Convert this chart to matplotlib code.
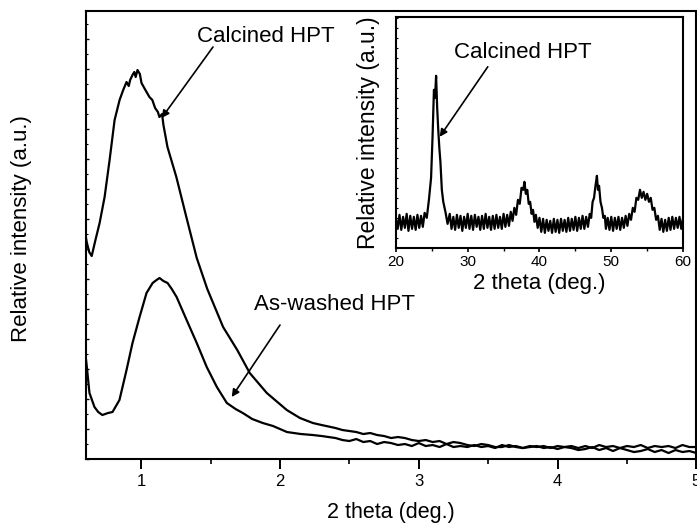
import matplotlib
matplotlib.use("Agg")
import matplotlib.pyplot as plt
from matplotlib.ticker import MultipleLocator, NullFormatter

plt.rcParams["font.family"] = ["Liberation Sans", "DejaVu Sans"]

# --- main pattern: low-angle region (2 theta 0.6-5 deg), intensity in a.u. ---
calcined_x = [0.600, 0.607, 0.625, 0.643, 0.670, 0.700, 0.736, 0.772, 0.808, 0.844,
              0.870, 0.894, 0.910, 0.920, 0.937, 0.950, 0.960, 0.973, 0.990, 1.002,
              1.030, 1.059, 1.080, 1.100, 1.120, 1.131, 1.150, 1.160, 1.189, 1.253,
              1.325, 1.400, 1.476, 1.518, 1.590, 1.692, 1.782, 1.905, 2.049, 2.144,
              2.237, 2.300,
              2.40, 2.45, 2.50, 2.55, 2.60, 2.65, 2.70, 2.75, 2.80, 2.85, 2.90, 2.95,
              3.00, 3.05, 3.10, 3.15, 3.20, 3.25, 3.30, 3.35, 3.40, 3.45, 3.50, 3.55,
              3.60, 3.65, 3.70, 3.75, 3.80, 3.85, 3.90, 3.95, 4.00, 4.05, 4.10, 4.15,
              4.20, 4.25, 4.30, 4.35, 4.40, 4.45, 4.50, 4.55, 4.60, 4.65, 4.70, 4.75,
              4.80, 4.85, 4.90, 4.95, 5.00]
calcined_y = [223, 217, 207, 203, 219, 236, 262, 299, 339, 359,
              369, 377, 373, 379, 384, 387, 382, 389, 385, 376,
              369, 362, 359, 351, 347, 342, 345, 334, 312, 282,
              242, 201, 170, 156, 132, 109, 86, 66, 49, 41,
              36, 34,
              31, 29, 28, 27, 25, 26, 24, 23, 21, 22, 21, 19,
              18, 19, 17, 18, 15, 17, 16, 14, 13, 15, 14, 12,
              12, 14, 12, 11, 12, 13, 11, 12, 10, 12, 11, 9,
              10, 12, 9, 11, 8, 11, 9, 7, 8, 10, 7, 9,
              6, 9, 7, 8, 6]

washed_x = [0.600, 0.605, 0.627, 0.663, 0.690, 0.720, 0.760, 0.793, 0.843, 0.894,
            0.937, 0.988, 1.038, 1.082, 1.110, 1.132, 1.160, 1.190, 1.220, 1.255,
            1.327, 1.400, 1.472, 1.545, 1.617, 1.680, 1.732, 1.800, 1.876, 1.950,
            2.050, 2.150, 2.237, 2.300,
            2.40, 2.45, 2.50, 2.55, 2.60, 2.65, 2.70, 2.75, 2.80, 2.85, 2.90, 2.95,
            3.00, 3.05, 3.10, 3.15, 3.20, 3.25, 3.30, 3.35, 3.40, 3.45, 3.50, 3.55,
            3.60, 3.65, 3.70, 3.75, 3.80, 3.85, 3.90, 3.95, 4.00, 4.05, 4.10, 4.15,
            4.20, 4.25, 4.30, 4.35, 4.40, 4.45, 4.50, 4.55, 4.60, 4.65, 4.70, 4.75,
            4.80, 4.85, 4.90, 4.95, 5.00]
washed_y = [102, 96, 66, 52, 47, 44, 46, 47, 59, 89,
            116, 142, 166, 176, 179, 181, 178, 176, 170, 162,
            139, 116, 92, 72, 56, 50, 46, 40, 36, 33,
            27, 25, 24, 23,
            21, 19, 18, 20, 17, 18, 15, 17, 16, 14, 15, 13,
            16, 13, 14, 12, 15, 12, 13, 12, 14, 12, 13, 11,
            14, 12, 13, 11, 13, 12, 13, 11, 13, 12, 13, 11,
            13, 11, 14, 12, 13, 11, 13, 12, 14, 11, 13, 12,
            13, 11, 14, 12, 12]

# --- inset: wide-angle pattern of calcined HPT (2 theta 20-60 deg), (2theta, counts) ---
inset_points = [
    (20.0, 30), (20.25, 19), (20.5, 33), (20.75, 18), (21.0, 31), (21.25, 20),
    (21.5, 34), (21.75, 17), (22.0, 32), (22.25, 19), (22.5, 31), (22.75, 18),
    (23.0, 33), (23.25, 20), (23.5, 32), (23.75, 21), (24.0, 35),
    (24.3, 30), (24.6, 48), (24.9, 70), (25.1, 110), (25.3, 158), (25.45, 150),
    (25.6, 172), (25.75, 140), (25.9, 118), (26.05, 100), (26.2, 86), (26.4, 58),
    (26.6, 46), (26.9, 36), (27.2, 24),
    (27.5, 34), (27.75, 19), (28.0, 31), (28.25, 18), (28.5, 33), (28.75, 20),
    (29.0, 32), (29.25, 17), (29.5, 31), (29.75, 20), (30.0, 34), (30.25, 19),
    (30.5, 32), (30.75, 18), (31.0, 33), (31.25, 21), (31.5, 31), (31.75, 18),
    (32.0, 32), (32.25, 19), (32.5, 34), (32.75, 20), (33.0, 31), (33.25, 18),
    (33.5, 32), (33.75, 19), (34.0, 33), (34.25, 20), (34.5, 31), (34.75, 19),
    (35.0, 34), (35.25, 21), (35.5, 33), (35.75, 22),
    (36.0, 36), (36.25, 27), (36.5, 40), (36.75, 33), (37.0, 48), (37.25, 44),
    (37.5, 60), (37.75, 58), (37.9, 66), (38.1, 54), (38.3, 58), (38.5, 44),
    (38.7, 46), (38.9, 34), (39.1, 38), (39.3, 26), (39.5, 33),
    (39.75, 20), (40.0, 30), (40.25, 16), (40.5, 29), (40.75, 15), (41.0, 28),
    (41.25, 17), (41.5, 27), (41.75, 15), (42.0, 29), (42.25, 16), (42.5, 28),
    (42.75, 15), (43.0, 29), (43.25, 17), (43.5, 28), (43.75, 16), (44.0, 30),
    (44.25, 17), (44.5, 29), (44.75, 18), (45.0, 31), (45.25, 17), (45.5, 30),
    (45.75, 19), (46.0, 32), (46.25, 19), (46.5, 31), (46.75, 21),
    (47.0, 34), (47.2, 30), (47.4, 46), (47.6, 50), (47.8, 62), (48.0, 72),
    (48.15, 58), (48.3, 62), (48.5, 46), (48.7, 40), (48.9, 30), (49.1, 32),
    (49.25, 19), (49.5, 30), (49.75, 18), (50.0, 31), (50.25, 17), (50.5, 30),
    (50.75, 19), (51.0, 31), (51.25, 18), (51.5, 30), (51.75, 20), (52.0, 32),
    (52.25, 22), (52.5, 34),
    (52.75, 28), (53.0, 40), (53.25, 36), (53.5, 50), (53.75, 48), (54.0, 58),
    (54.25, 50), (54.5, 56), (54.75, 48), (55.0, 54), (55.25, 46), (55.5, 50),
    (55.75, 38), (56.0, 40), (56.25, 28), (56.5, 32),
    (56.75, 18), (57.0, 29), (57.25, 16), (57.5, 28), (57.75, 17), (58.0, 30),
    (58.25, 18), (58.5, 31), (58.75, 19), (59.0, 30), (59.25, 20), (59.5, 31),
    (59.75, 19), (60.0, 30),
]
inset_x = [p[0] for p in inset_points]
inset_y = [p[1] for p in inset_points]

fig = plt.figure(figsize=(6.97, 5.24), dpi=100)
ax = fig.add_axes([0.123, 0.124, 0.876, 0.855])

ax.plot(calcined_x, calcined_y, color="black", lw=1.6)
ax.plot(washed_x, washed_y, color="black", lw=1.6)
ax.set_xlim(0.6, 5.0)
ax.set_ylim(0, 448)

ax.xaxis.set_major_locator(MultipleLocator(1))
ax.xaxis.set_minor_locator(MultipleLocator(0.5))
ax.yaxis.set_major_locator(MultipleLocator(30))
ax.yaxis.set_minor_locator(MultipleLocator(15))
ax.yaxis.set_major_formatter(NullFormatter())
ax.tick_params(axis="x", which="major", direction="out", length=7, width=1.4, pad=4, labelsize=12)
ax.tick_params(axis="x", which="minor", direction="out", length=3.5, width=1.2)
ax.tick_params(axis="y", which="major", direction="in", length=2.5, width=1.0)
ax.tick_params(axis="y", which="minor", direction="in", length=1.2, width=0.8)
for sp in ax.spines.values():
    sp.set_linewidth(1.5)

ax.set_xlabel("2 theta (deg.)", fontsize=15.5)
ax.xaxis.set_label_coords(0.5, -0.095)
ax.set_ylabel("Relative intensity (a.u.)", fontsize=16)
ax.yaxis.set_label_coords(-0.088, 0.515)

arrow = dict(arrowstyle="-|>", color="black", lw=1.2, mutation_scale=11, shrinkA=0, shrinkB=0)
ax.text(1.90, 423, "Calcined HPT", fontsize=16, ha="center", va="center")
ax.annotate("", xy=(1.147, 341), xytext=(1.517, 412), arrowprops=arrow)
ax.text(2.39, 155, "As-washed HPT", fontsize=16, ha="center", va="center")
ax.annotate("", xy=(1.652, 62), xytext=(2.0, 134), arrowprops=arrow)

# inset
axi = fig.add_axes([0.568, 0.527, 0.412, 0.441])
axi.plot(inset_x, inset_y, color="black", lw=1.6)
axi.set_xlim(20, 60)
axi.set_ylim(0, 231)
axi.xaxis.set_major_locator(MultipleLocator(10))
axi.xaxis.set_minor_locator(MultipleLocator(5))
axi.yaxis.set_major_locator(MultipleLocator(20))
axi.yaxis.set_minor_locator(MultipleLocator(10))
axi.yaxis.set_major_formatter(NullFormatter())
axi.tick_params(axis="x", which="major", direction="out", length=3, width=1.2, pad=2, labelsize=11)
axi.tick_params(axis="x", which="minor", direction="out", length=2, width=1.0)
axi.tick_params(axis="y", which="both", direction="in", length=1.2, width=0.8)
for sp in axi.spines.values():
    sp.set_linewidth(1.5)
axi.set_xlabel("2 theta (deg.)", fontsize=16)
axi.xaxis.set_label_coords(0.5, -0.11)
axi.set_ylabel("Relative intensity (a.u.)", fontsize=16.5)
axi.yaxis.set_label_coords(-0.055, 0.5)
axi.text(37.7, 195, "Calcined HPT", fontsize=16, ha="center", va="center")
axi.annotate("", xy=(26.1, 111), xytext=(32.8, 181), arrowprops=arrow)

fig.savefig("out.png", dpi=100)
